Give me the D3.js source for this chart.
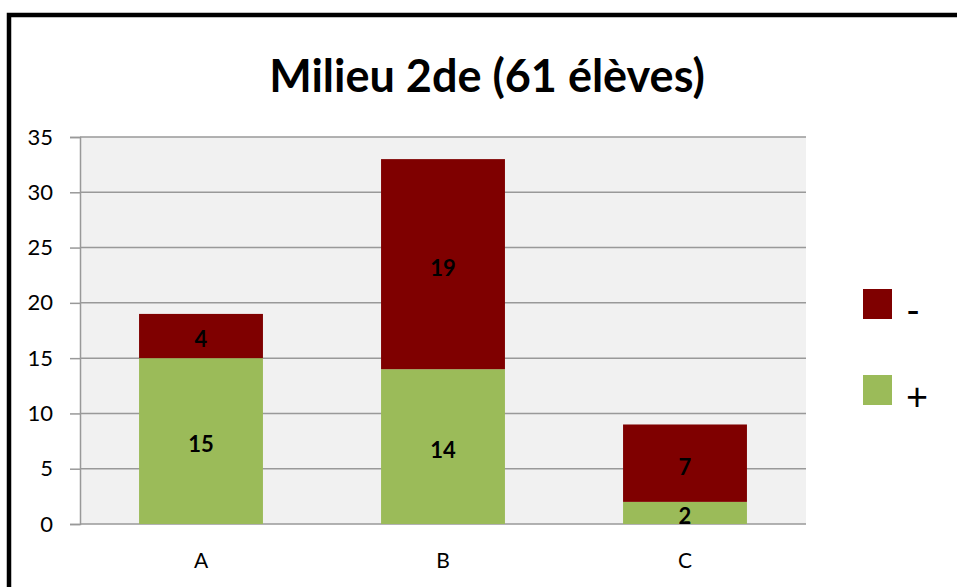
<!DOCTYPE html>
<html>
<head>
<meta charset="utf-8">
<script src="https://cdn.jsdelivr.net/npm/d3@7"></script>
<style>
  body { margin: 0; background: #fff; }
  text { font-family: Lato, "Open Sans", sans-serif; }
</style>
</head>
<body>
<div id="myVis"></div>
<script>
// data
const categories = ["A", "B", "C"]
const plusValues = [15, 14, 2]
const minusValues = [4, 19, 7]
const seriesNames = ["+", "-"]
const yTicks = [0, 5, 10, 15, 20, 25, 30, 35]

const W = 957, H = 587
const plot = {left: 80, top: 137, right: 806, bottom: 524}

const svg = d3.select("#myVis")
    .append("svg")
        .attr("width", W)
        .attr("height", H)

// outer frame (runs off the right and bottom edges)
svg.append("rect")
    .attr("x", 9).attr("y", 15)
    .attr("width", W + 20).attr("height", H + 20)
    .attr("fill", "#fff")
    .attr("stroke", "#000")
    .attr("stroke-width", 4.5)

svg.append("text")
    .attr("x", 487).attr("y", 92)
    .attr("text-anchor", "middle")
    .attr("font-size", 45)
    .attr("font-weight", "bold")
    .text("Milieu 2de (61 élèves)")

const rows = categories.map((c, i) => ({cat: c, "+": plusValues[i], "-": minusValues[i]}))
const stacked = d3.stack().keys(seriesNames)(rows)

var xScale = d3.scaleBand()
    .domain(categories)
    .range([plot.left, plot.right])
    .paddingInner(0.488)
    .paddingOuter(0.244)

var yScale = d3.scaleLinear()
    .domain([0, 35])
    .range([plot.bottom, plot.top])

const color = d3.scaleOrdinal().domain(seriesNames).range(["#9bbb59", "#7f0000"])

// plot background
svg.append("rect")
    .attr("x", plot.left).attr("y", plot.top)
    .attr("width", plot.right - plot.left).attr("height", plot.bottom - plot.top)
    .attr("fill", "#f1f1f1")

// grid lines + y axis
const yAxis = svg.append("g")
    .attr("transform", "translate(" + plot.left + ",0)")
    .call(d3.axisLeft(yScale).tickValues(yTicks).tickSize(10).tickPadding(17))
yAxis.select(".domain").attr("stroke", "#999").attr("stroke-width", 1.5)
yAxis.selectAll(".tick line").attr("stroke", "#999").attr("stroke-width", 1.5)
yAxis.selectAll(".tick text")
    .attr("font-size", 22)
    .attr("fill", "#000")
    .style("font-family", "Lato, sans-serif")

svg.append("g")
    .selectAll("line")
    .data(yTicks)
    .enter()
    .append("line")
        .attr("x1", plot.left).attr("x2", plot.right)
        .attr("y1", d => yScale(d)).attr("y2", d => yScale(d))
        .attr("stroke", "#999")
        .attr("stroke-width", 1.5)

// bars
const layers = svg.append("g")
    .selectAll("g")
    .data(stacked)
    .enter()
    .append("g")
        .attr("fill", d => color(d.key))

layers.selectAll("rect")
    .data(d => d)
    .enter()
    .append("rect")
        .attr("x", d => xScale(d.data.cat))
        .attr("y", d => yScale(d[1]))
        .attr("width", xScale.bandwidth())
        .attr("height", d => yScale(d[0]) - yScale(d[1]))

// value labels
layers.selectAll("text")
    .data(d => d.map(p => ({p: p, key: d.key})))
    .enter()
    .append("text")
        .attr("x", d => xScale(d.p.data.cat) + xScale.bandwidth() / 2)
        .attr("y", d => (yScale(d.p[0]) + yScale(d.p[1])) / 2 + 3)
        .attr("dy", "0.38em")
        .attr("text-anchor", "middle")
        .attr("font-size", 22)
        .attr("font-weight", "bold")
        .attr("fill", "#000")
        .text(d => d.p.data[d.key])

// category labels
svg.append("g")
    .selectAll("text")
    .data(categories)
    .enter()
    .append("text")
        .attr("x", d => xScale(d) + xScale.bandwidth() / 2)
        .attr("y", 568)
        .attr("text-anchor", "middle")
        .attr("font-size", 21)
        .text(d => d)

// legend ("-" on top)
const legendItems = ["-", "+"]
const legend = svg.append("g")
    .selectAll("g")
    .data(legendItems)
    .enter()
    .append("g")
        .attr("transform", (d, i) => "translate(863," + (289 + i * 86) + ")")

legend.append("rect")
    .attr("width", 29).attr("height", 30)
    .attr("fill", d => color(d))

legend.append("text")
    .attr("x", 43)
    .attr("y", 22)
    .attr("dy", "0.35em")
    .attr("font-size", 38)
    .text(d => d)
</script>
</body>
</html>
